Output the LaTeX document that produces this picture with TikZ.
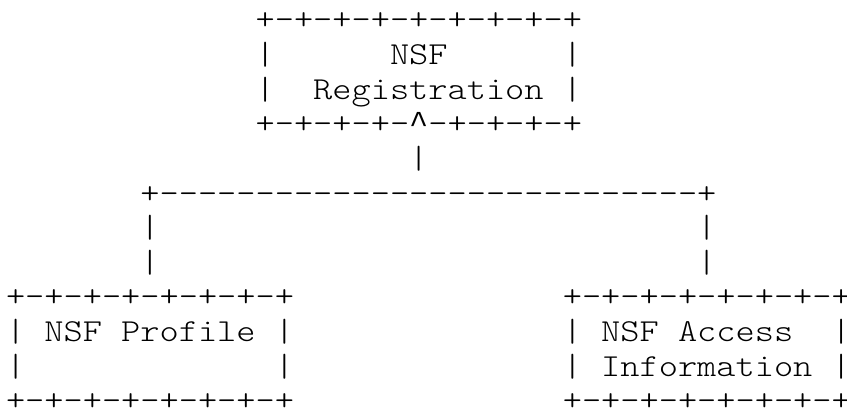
\documentclass[tikz,border=0pt]{standalone}
\usepackage{fontspec}
\setmonofont{lmmonolt10-regular.otf}[FakeStretch=1.1429]
\newfontfamily\caretfont{Liberation Mono}
\tikzset{
  asc/.style={anchor=base west, inner sep=0pt, outer sep=0pt,
    font=\ttfamily\fontsize{32}{35}\selectfont, text=black}
}
% #1 name, #2 row, #3 column, #4 text
\newcommand\ascseg[4]{\node[asc] (#1) at ({6pt+19.2pt*#3},{378pt-34.6pt*#2}) {#4};}
\begin{document}
\begin{tikzpicture}
\fill[white] (0,0) rectangle (847pt,408pt);
\useasboundingbox (0,0) rectangle (847pt,408pt);
% NSF Registration box
\ascseg{regtop}{0}{13}{+-+-+-+-+-+-+-+-+}
\ascseg{regl1}{1}{13}{|}
\ascseg{regtxt1}{1}{20}{NSF}
\ascseg{regr1}{1}{29}{|}
\ascseg{regl2}{2}{13}{|}
\ascseg{regtxt2}{2}{16}{Registration}
\ascseg{regr2}{2}{29}{|}
\ascseg{regbotl}{3}{13}{+-+-+-+-}
\ascseg{caret}{3}{21}{\caretfont\textasciicircum}
\ascseg{regbotr}{3}{22}{-+-+-+-+}
% connector
\ascseg{stem}{4}{21}{|}
\ascseg{bar}{5}{7}{+----------------------------+}
\ascseg{lv1}{6}{7}{|}
\ascseg{rv1}{6}{36}{|}
\ascseg{lv2}{7}{7}{|}
\ascseg{rv2}{7}{36}{|}
% NSF Profile box
\ascseg{proftop}{8}{0}{+-+-+-+-+-+-+-+}
\ascseg{profl1}{9}{0}{|}
\ascseg{proftxt}{9}{2}{NSF Profile}
\ascseg{profr1}{9}{14}{|}
\ascseg{profl2}{10}{0}{|}
\ascseg{profr2}{10}{14}{|}
\ascseg{profbot}{11}{0}{+-+-+-+-+-+-+-+}
% NSF Access Information box
\ascseg{acctop}{8}{29}{+-+-+-+-+-+-+-+}
\ascseg{accl1}{9}{29}{|}
\ascseg{acctxt1}{9}{31}{NSF Access}
\ascseg{accr1}{9}{43}{|}
\ascseg{accl2}{10}{29}{|}
\ascseg{acctxt2}{10}{31}{Information}
\ascseg{accr2}{10}{43}{|}
\ascseg{accbot}{11}{29}{+-+-+-+-+-+-+-+}
\end{tikzpicture}
\end{document}
